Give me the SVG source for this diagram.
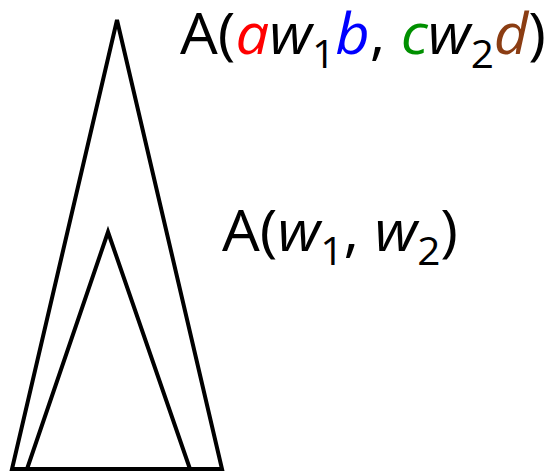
<svg xmlns="http://www.w3.org/2000/svg" width="553" height="474" viewBox="0 0 553 474">
<style>
.tri{fill:none;stroke:#000;stroke-width:4;stroke-linejoin:miter}
.lbl{font-family:"Open Sans","Liberation Sans",sans-serif;font-size:56px;fill:#000}
.it{font-style:italic}
.sub{font-size:38px}
</style>
<rect width="553" height="474" fill="#fff"/>
<g id="outer">
<polygon class="tri" points="117,20 12,469 222,469"/>
</g>
<g id="inner">
<polygon class="tri" points="108,232 27,469 190,469"/>
</g>
<g id="label-top">
<text class="lbl" x="180" y="54" textLength="366" lengthAdjust="spacingAndGlyphs">A(<tspan class="it" fill="#ff0000">a</tspan><tspan class="it">w</tspan><tspan class="sub" dy="14">1</tspan><tspan class="it" fill="#0000ff" dy="-14">b</tspan>, <tspan class="it" fill="#009000">c</tspan><tspan class="it">w</tspan><tspan class="sub" dy="14">2</tspan><tspan class="it" fill="#8b3d13" dy="-14">d</tspan>)</text>
</g>
<g id="label-inner">
<text class="lbl" x="222" y="251" textLength="236" lengthAdjust="spacingAndGlyphs">A(<tspan class="it">w</tspan><tspan class="sub" dy="14">1</tspan><tspan dy="-14">, </tspan><tspan class="it">w</tspan><tspan class="sub" dy="14">2</tspan><tspan dy="-14">)</tspan></text>
</g>
</svg>
